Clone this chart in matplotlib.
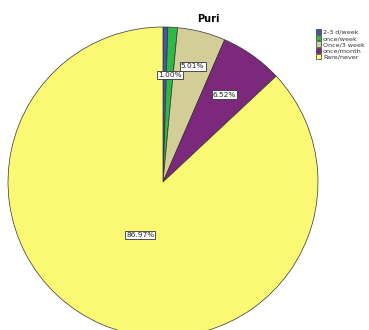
import numpy as np
import matplotlib.pyplot as plt
from matplotlib.patches import Patch

# frequency of eating puri
categories = ['2-3 d/week', 'once/week', 'Once/3 week', 'once/month', 'Rare/never']
percents = [0.50, 1.00, 5.01, 6.52, 86.97]
shown = [False, True, True, True, True]
colors = ['#3e58ac', '#2eb848', '#d3ce97', '#7c287d', '#fbf873']
label_dist = [0.7, 0.69, 0.77, 0.69, 0.37]

fig = plt.figure(figsize=(3.69, 3.30), dpi=100)
ax = fig.add_axes([0, 0, 1, 1])

cx, cy, r = 163, 148, 155
wedges, _ = ax.pie(percents, colors=colors, startangle=90, counterclock=False,
                   center=(cx, cy), radius=r, frame=True,
                   wedgeprops=dict(edgecolor='#333333', linewidth=0.5))
ax.set_xlim(0, 369)
ax.set_ylim(0, 330)
ax.axis('off')

for w, p, s, d in zip(wedges, percents, shown, label_dist):
    if not s:
        continue
    ang = np.deg2rad((w.theta1 + w.theta2) / 2)
    x = cx + d * r * np.cos(ang)
    y = cy + d * r * np.sin(ang)
    ax.text(x, y, f'{p:.2f}%', ha='center', va='center', fontsize=5.3,
            color='#222222',
            bbox=dict(boxstyle='square,pad=0.15', fc='white', ec='#333333', lw=0.6))

fig.text(208 / 369, 1 - 19 / 330, 'Puri', ha='center', va='center',
         fontsize=7, fontweight='bold')

handles = [Patch(facecolor=c, edgecolor='#333333', lw=0.5) for c in colors]
leg = fig.legend(handles, categories, loc='upper left',
                 bbox_to_anchor=(316 / 369, 1 - 29 / 330), frameon=False,
                 fontsize=4.6, handlelength=0.8, handleheight=0.9,
                 handletextpad=0.3, labelspacing=0.05, borderaxespad=0,
                 borderpad=0)
for t in leg.get_texts():
    t.set_color('#333333')

fig.savefig('out.png', dpi=100, facecolor='white')
